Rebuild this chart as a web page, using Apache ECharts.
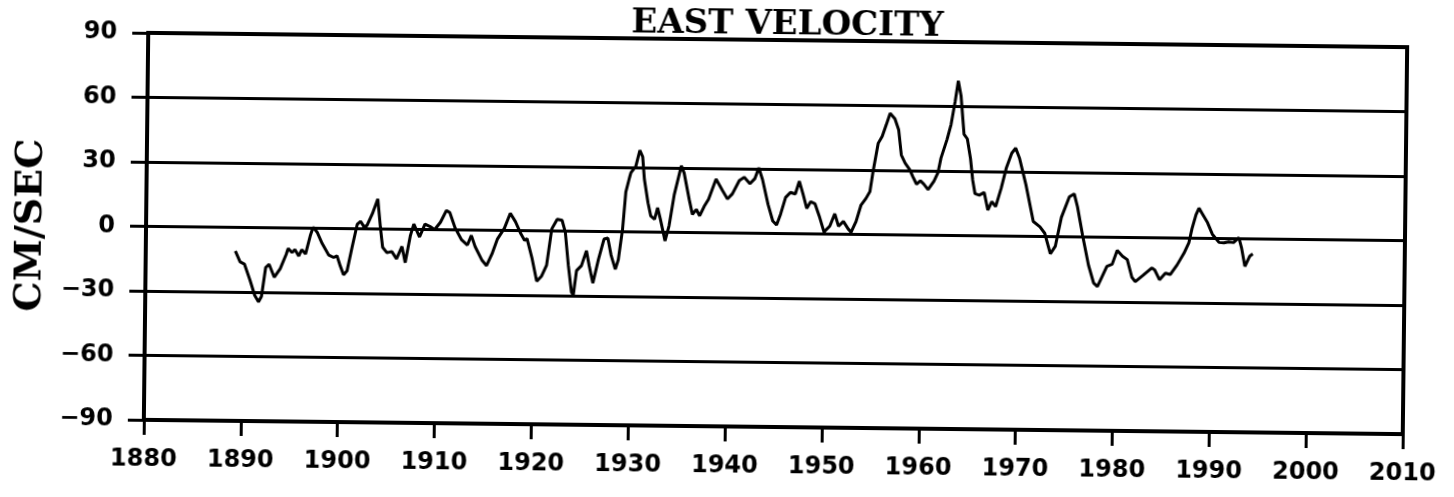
<!DOCTYPE html>
<html>
<head>
<meta charset="utf-8">
<script src="https://cdn.jsdelivr.net/npm/echarts@6/dist/echarts.min.js"></script>
<style>
  html, body { margin: 0; padding: 0; background: #fff; }
  #chart { width: 1454px; height: 497px; transform: rotate(0.65deg); transform-origin: 775.5px 233.5px; }
</style>
</head>
<body>
<div id="chart"></div>
<script>
// ---- data ----
const years = [
  1889.25, 1889.75, 1890.2, 1890.8, 1891.3, 1891.7, 1892.0, 1892.4, 1892.75, 1893.3,
  1893.9, 1894.5, 1894.7, 1895.1, 1895.4, 1895.8, 1896.1, 1896.5, 1897.0, 1897.25,
  1897.7, 1898.2, 1898.9, 1899.4, 1899.75, 1900.1, 1900.45, 1900.8, 1901.3, 1901.8,
  1902.15, 1902.5, 1902.8, 1903.35, 1903.9, 1904.2, 1904.45, 1904.9, 1905.4, 1905.9,
  1906.45, 1906.8, 1907.3, 1907.65, 1908.25, 1908.8, 1909.3, 1909.8, 1910.4, 1911.0,
  1911.35, 1911.9, 1912.6, 1913.2, 1913.6, 1914.0, 1914.7, 1915.2, 1915.75, 1916.3,
  1917.0, 1917.6, 1918.15, 1918.7, 1919.1, 1919.35, 1919.9, 1920.4, 1920.9, 1921.4,
  1921.9, 1922.45, 1922.95, 1923.3, 1923.65, 1924.0, 1924.2, 1924.5, 1925.0, 1925.5,
  1925.8, 1926.2, 1926.75, 1927.3, 1927.7, 1928.05, 1928.5, 1928.8, 1929.2, 1929.5,
  1929.85, 1930.0, 1930.5, 1930.9, 1931.2, 1931.4, 1931.8, 1932.1, 1932.5, 1932.8,
  1933.1, 1933.6, 1934.0, 1934.5, 1935.2, 1935.5, 1936.05, 1936.4, 1936.8, 1937.15,
  1937.6, 1938.05, 1938.8, 1939.5, 1940.0, 1940.5, 1941.2, 1941.7, 1942.3, 1942.8,
  1943.2, 1943.6, 1944.2, 1944.7, 1945.1, 1945.5, 1946.0, 1946.5, 1947.0, 1947.4,
  1947.8, 1948.2, 1948.6, 1949.05, 1949.5, 1950.0, 1950.6, 1951.1, 1951.5, 1952.0,
  1952.5, 1952.8, 1953.3, 1953.8, 1954.3, 1954.7, 1955.0, 1955.5, 1955.9, 1956.3,
  1956.7, 1957.2, 1957.6, 1957.9, 1958.3, 1958.8, 1959.1, 1959.5, 1959.9, 1960.25,
  1960.7, 1961.3, 1961.7, 1962.0, 1962.6, 1963.0, 1963.4, 1963.7, 1964.0, 1964.35,
  1964.7, 1965.05, 1965.3, 1965.55, 1966.0, 1966.5, 1966.9, 1967.3, 1967.7, 1968.25,
  1968.75, 1969.3, 1969.7, 1970.1, 1970.8, 1971.6, 1972.3, 1972.8, 1973.4, 1973.9,
  1974.5, 1975.3, 1975.8, 1976.15, 1976.7, 1977.35, 1977.9, 1978.3, 1978.75, 1979.25,
  1979.8, 1980.3, 1980.85, 1981.35, 1981.85, 1982.2, 1983.0, 1983.9, 1984.2, 1984.7,
  1985.3, 1985.8, 1986.5, 1987.2, 1987.7, 1988.0, 1988.4, 1988.7, 1989.05, 1989.6,
  1990.1, 1990.8, 1991.3, 1991.8, 1992.3, 1992.85, 1993.15, 1993.5, 1994.0, 1994.3
];
const eastVelocity = [
  -11, -16, -17, -24.5, -31.5, -34.5, -32, -18.5, -17, -23,
  -19, -12.3, -9.5, -11.4, -10, -13, -10, -12, -3, 0.5,
  -2, -7, -12.4, -13.5, -12.7, -17.4, -21.5, -19.7, -8.6, 2,
  3.5, 1, 1.5, 7, 14, 0.8, -8.5, -11, -10.4, -13.8,
  -8, -15.5, -3, 2.5, -3.5, 2.5, 1.5, 0, 3.5, 9,
  8, 1, -4.6, -7, -2.5, -7.7, -13.8, -16.5, -11, -4,
  1, 8, 4, -1.4, -4.5, -3.7, -13, -23.5, -21, -16,
  1, 5.5, 5, -0.5, -16, -28.4, -29.5, -18.3, -16, -9,
  -16, -24, -13, -3.5, -3, -11, -17.5, -13, 1, 18.5,
  25, 27.5, 30.5, 38, 35, 24.5, 13.6, 7.5, 6, 11.4,
  6, -4, 3, 17.5, 31, 27.6, 15.4, 8.4, 10.8, 7.8,
  12.2, 15.6, 25, 19.5, 15.8, 18.2, 24.4, 26, 23, 25.4,
  30.5, 25, 13.4, 5.8, 4, 9, 16.8, 19.2, 18.5, 24.5,
  18.4, 11.8, 15, 14, 8.3, 1, 3.7, 9.5, 3.7, 6,
  2.5, 1, 6, 13.7, 16.8, 20, 29.3, 42.5, 45.7, 51,
  56.5, 54, 48.8, 37.2, 33.4, 30.3, 27.3, 23.7, 25.3, 23.8,
  21.2, 25.2, 29.1, 36, 44.6, 51.6, 62.5, 72, 65, 47.2,
  45, 35.8, 25.8, 19.6, 18.9, 20.2, 12, 16, 13.7, 22.3,
  31.6, 38.6, 41, 36.4, 24, 7, 4.5, 1.5, -8, -4.5,
  9, 18.6, 20, 14, 1, -13, -21.3, -23, -18.5, -13.5,
  -12.5, -6, -8.7, -10.3, -18.5, -20.5, -17.5, -14, -15, -19.5,
  -16.4, -17, -12.5, -7, -2, 4.5, 11, 14, 11.4, 7.3,
  2, -1.8, -2, -1.5, -1.8, 0.5, -4.5, -12.8, -8, -7
];
const xTickValues = [1880, 1890, 1900, 1910, 1920, 1930, 1940, 1950, 1960, 1970, 1980, 1990, 2000, 2010];
const xTickLabels = ['1880', '1890', '1900', '1910', '1920', '1930', '1940', '1950', '1960', '1970', '1980', '1990', '2000', '2010'];
const yTickValues = [-90, -60, -30, 0, 30, 60, 90];
const yTickLabels = ['\u221290', '\u221260', '\u221230', '0', '30', '60', '90'];
const chartTitle = 'EAST VELOCITY';
const yAxisTitle = 'CM/SEC';

// ---- chart ----
const seriesData = years.map((y, i) => [y, eastVelocity[i]]);
const chart = echarts.init(document.getElementById('chart'), null, { renderer: 'canvas' });
const tickFont = { fontFamily: 'DejaVu Sans', fontWeight: 'bold', fontSize: 24, color: '#000' };

chart.setOption({
  backgroundColor: '#fff',
  animation: false,
  title: {
    text: chartTitle,
    left: 629,
    top: 8,
    padding: 0,
    textStyle: { fontFamily: 'DejaVu Serif', fontWeight: 'bold', fontSize: 34, color: '#000' }
  },
  grid: {
    left: 146, top: 40, width: 1259, height: 387,
    show: true, borderColor: '#000', borderWidth: 4, backgroundColor: 'transparent'
  },
  xAxis: {
    type: 'value', min: 1880, max: 2010, interval: 10,
    axisLine: { show: true, onZero: false, lineStyle: { color: '#000', width: 4 } },
    axisTick: { show: true, length: 15, lineStyle: { color: '#000', width: 3 } },
    axisLabel: Object.assign({
      margin: 28, showMinLabel: true, showMaxLabel: true,
      formatter: v => { const i = xTickValues.indexOf(v); return i >= 0 ? xTickLabels[i] : ''; }
    }, tickFont),
    splitLine: { show: false }
  },
  yAxis: {
    type: 'value', min: -90, max: 90, interval: 30,
    name: yAxisTitle, nameLocation: 'middle', nameGap: 96,
    nameTextStyle: { fontFamily: 'DejaVu Serif', fontWeight: 'bold', fontSize: 38, color: '#000' },
    axisLine: { show: true, onZero: false, lineStyle: { color: '#000', width: 4 } },
    axisTick: { show: true, length: 16, lineStyle: { color: '#000', width: 3 } },
    axisLabel: Object.assign({
      margin: 31, showMinLabel: true, showMaxLabel: true,
      formatter: v => { const i = yTickValues.indexOf(v); return i >= 0 ? yTickLabels[i] : ''; }
    }, tickFont),
    splitLine: { show: true, lineStyle: { color: '#000', width: 3 } }
  },
  series: [{
    name: chartTitle,
    type: 'line',
    data: seriesData,
    showSymbol: false,
    symbol: 'none',
    smooth: false,
    lineStyle: { color: '#000', width: 3 },
    z: 5
  }]
});
</script>
</body>
</html>
